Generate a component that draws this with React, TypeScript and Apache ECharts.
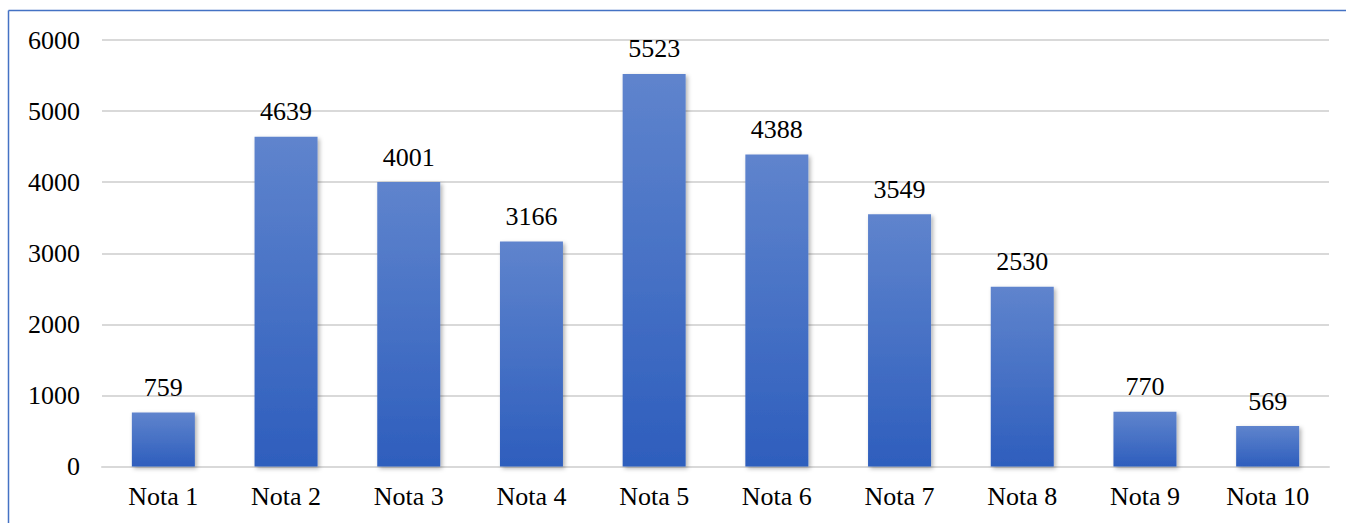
import React, { useEffect, useRef } from "react";
import * as echarts from "echarts";

const categories = ["Nota 1", "Nota 2", "Nota 3", "Nota 4", "Nota 5", "Nota 6", "Nota 7", "Nota 8", "Nota 9", "Nota 10"];
const values = [759, 4639, 4001, 3166, 5523, 4388, 3549, 2530, 770, 569];

const FONT = "Liberation Serif";

export default function App() {
  const ref = useRef<HTMLDivElement>(null);
  useEffect(() => {
    if (!ref.current) return;
    const chart = echarts.init(ref.current, null, { renderer: "svg" });
    const txt = { color: "#000", fontFamily: FONT, fontSize: 26 };
    chart.setOption({
      animation: false,
      backgroundColor: "#ffffff",
      textStyle: { fontFamily: FONT },
      graphic: [
        {
          type: "line",
          shape: { x1: 8.5, y1: 10.5, x2: 1346, y2: 10.5 },
          style: { stroke: "#4472c4", lineWidth: 1.5 },
        },
        {
          type: "line",
          shape: { x1: 8.5, y1: 10.5, x2: 8.5, y2: 523 },
          style: { stroke: "#4472c4", lineWidth: 1.5 },
        },
      ],
      grid: { left: 102, right: 17, top: 40, bottom: 56.5, containLabel: false },
      xAxis: {
        type: "category",
        data: categories,
        axisLine: { lineStyle: { color: "#d9d9d9", width: 2 } },
        axisTick: { show: false },
        axisLabel: { ...txt, margin: 17 },
      },
      yAxis: {
        type: "value",
        min: 0,
        max: 6000,
        interval: 1000,
        axisLine: { show: false },
        axisTick: { show: false },
        splitLine: { lineStyle: { color: "#d9d9d9", width: 2 } },
        axisLabel: { ...txt, margin: 22, formatter: (v: number) => String(v) },
      },
      series: [
        {
          type: "bar",
          data: values,
          barWidth: 63,
          itemStyle: {
            color: new echarts.graphic.LinearGradient(0, 0, 0, 1, [
              { offset: 0, color: "#5f84cd" },
              { offset: 1, color: "#2e5ebd" },
            ]),
            shadowColor: "rgba(0,0,0,0.3)",
            shadowBlur: 4,
            shadowOffsetX: 2,
            shadowOffsetY: 2,
          },
          label: {
            show: true,
            position: "top",
            distance: 12,
            ...txt,
          },
        },
      ],
    });
    return () => chart.dispose();
  }, []);
  return <div ref={ref} style={{ position: "fixed", left: 0, top: 0, width: 1346, height: 523 }} />;
}
